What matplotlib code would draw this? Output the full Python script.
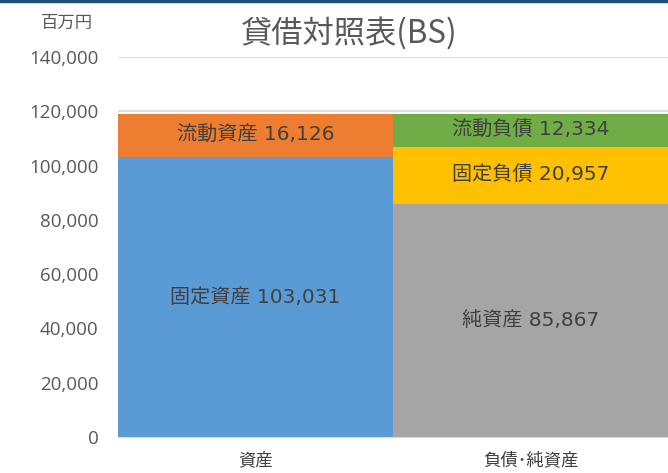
import matplotlib
matplotlib.use('Agg')  # non-interactive backend
import matplotlib.pyplot as plt
from matplotlib.ticker import FuncFormatter

plt.rcParams['font.family'] = ['Noto Sans CJK JP', 'DejaVu Sans']

# data (百万円)
categories = ['資産', '負債･純資産']
asset_names = ['固定資産', '流動資産']
asset_values = [103031, 16126]
liab_names = ['純資産', '固定負債', '流動負債']
liab_values = [85867, 20957, 12334]
asset_colors = ['#5B9BD5', '#ED7D31']
liab_colors = ['#A5A5A5', '#FFC000', '#70AD47']
y_ticks = [0, 20000, 40000, 60000, 80000, 100000, 120000, 140000]

fig = plt.figure(figsize=(6.68, 4.73), dpi=100)
ax = fig.add_axes([118 / 668, 1 - 437 / 473, 1 - 118 / 668, 380 / 473])


def stack(ax, x, names, values, colors):
    bottom = 0
    for name, val, col in zip(names, values, colors):
        ax.bar(x, val, width=1.0, bottom=bottom, color=col, zorder=2)
        ax.text(x, bottom + val / 2, f'{name} {val:,}', ha='center', va='center',
                fontsize=14.5, color='#404040', zorder=3,
                family=['DejaVu Sans', 'Noto Sans CJK JP'])
        bottom += val


stack(ax, 0, asset_names, asset_values, asset_colors)
stack(ax, 1, liab_names, liab_values, liab_colors)

ax.set_xlim(-0.5, 1.5)
ax.set_ylim(0, 140000)
ax.set_yticks(y_ticks)
ax.yaxis.set_major_formatter(FuncFormatter(lambda v, p: f'{int(v):,}'))
for lbl in ax.get_yticklabels():
    lbl.set_family(['Open Sans', 'Noto Sans CJK JP'])
ax.set_xticks([0, 1])
ax.set_xticklabels(categories)
ax.tick_params(axis='y', length=0, pad=14, labelsize=13.5, labelcolor='#595959')
ax.tick_params(axis='x', length=0, pad=10, labelsize=12.5, labelcolor='#404040')
ax.grid(axis='y', color='#D9D9D9', linewidth=1.2, zorder=0)
for side in ['top', 'right', 'left']:
    ax.spines[side].set_visible(False)
ax.spines['bottom'].set_color('#D9D9D9')

fig.text(349 / 668, 1 - 33 / 473, '貸借対照表(BS)', ha='center', va='center',
         fontsize=22.5, color='#595959')
fig.text(67 / 668, 1 - 23 / 473, '百万円', ha='center', va='center',
         fontsize=12.5, color='#595959')

# thin frame line at the top of the screenshot
fig.add_artist(plt.Line2D([0, 1], [1 - 1 / 473, 1 - 1 / 473], color='#1F4E79',
                          linewidth=2.5, transform=fig.transFigure))

fig.savefig('out.png', dpi=100)
plt.close(fig)
